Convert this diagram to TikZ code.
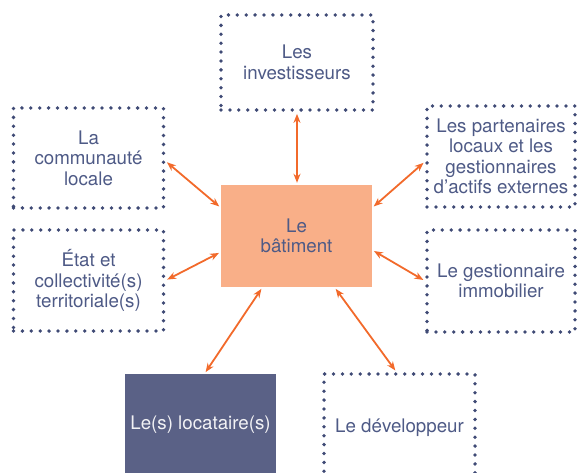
\documentclass[tikz,border=0pt]{standalone}
\usepackage{fontspec}
\setmainfont{TeX Gyre Heros}
\usetikzlibrary{arrows.meta,positioning}
\definecolor{navy}{HTML}{3F4A75}
\definecolor{inktext}{HTML}{4E5A86}
\definecolor{peach}{HTML}{F9AF88}
\definecolor{slate}{HTML}{5A6186}
\definecolor{flame}{HTML}{F26A2B}
\tikzset{
  actor/.style={draw=navy, line width=3.8bp, dash pattern=on 0bp off 8.9bp, line cap=round,
    minimum width=150bp, minimum height=100bp, inner sep=0pt, align=center,
    text=inktext, font=\fontsize{18.8}{20.5}\selectfont},
  hub/.style={fill=peach, minimum width=151bp, minimum height=102bp, inner sep=0pt,
    align=center, text=inktext, font=\fontsize{18.8}{20.5}\selectfont},
  tenant/.style={fill=slate, minimum width=151bp, minimum height=102bp, inner sep=0pt,
    align=center, text=white!92!slate, font=\fontsize{18.8}{20.5}\selectfont},
  link/.style={flame, line width=1.8bp,
    {Stealth[length=9bp,width=7bp]}-{Stealth[length=9bp,width=7bp]},
    shorten >=2bp, shorten <=2bp}
}
\begin{document}
\begin{tikzpicture}[x=1bp,y=-1bp]
    \useasboundingbox (0,0) rectangle (577,473);
    \clip (0,0) rectangle (577,473);
    % centre
    \node[hub] (bat) at (296.5,236) {Le\\bâtiment};
    % stakeholders
    \node[actor, minimum width=152bp, minimum height=95bp] (inv) at (297,62.5) {Les\\investisseurs};
    \node[actor] (com) at (88.5,158) {La\\communauté\\locale};
    \node[actor, minimum height=101bp] (etat) at (88.5,280.5) {État et\\collectivité(s)\\territoriale(s)};
    \node[actor, minimum width=148bp, minimum height=101bp] (part) at (501,156.5) {Les partenaires\\locaux et les\\gestionnaires\\d’actifs externes};
    \node[actor, minimum width=148bp, minimum height=102bp] (gest) at (501,281) {Le gestionnaire\\immobilier};
    \node[tenant] (loc) at (200.5,425) {Le(s) locataire(s)};
    \node[actor, minimum width=151bp, minimum height=108bp] (dev) at (399.5,428) {Le développeur};
    % links
    \draw[link] (inv.south) -- (inv.south |- bat.north);
    \draw[link] ([yshift=-3bp]com.east) -- ([yshift=-23bp]bat.north west);
    \draw[link] (etat.east) -- ([yshift=-16bp]bat.west);
    \draw[link] ([yshift=-5bp]part.west) -- ([yshift=-23bp]bat.north east);
    \draw[link] (gest.west) -- ([yshift=-14bp]bat.east);
    \draw[link] ([xshift=-34bp]bat.south) -- ([xshift=4bp]loc.north);
    \draw[link] ([xshift=38bp]bat.south) -- ([xshift=-3bp]dev.north);
\end{tikzpicture}
\end{document}
